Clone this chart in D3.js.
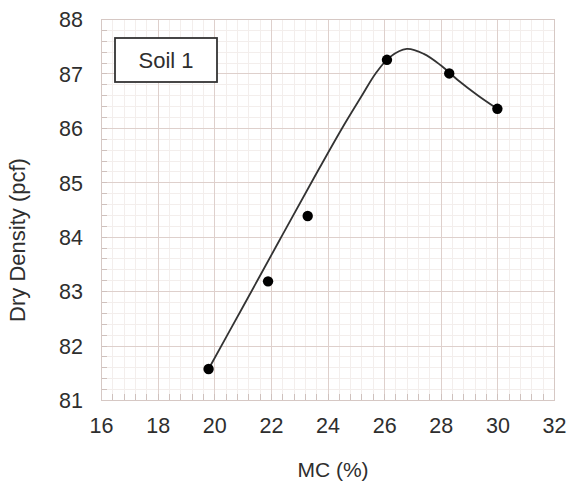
<!DOCTYPE html>
<html><head><meta charset="utf-8">
<script src="https://cdn.jsdelivr.net/npm/d3@7"></script>
<style>body{margin:0;background:#fff}svg{display:block}text{font-family:"Liberation Sans",Arial,sans-serif;fill:#2e2e2e}</style>
</head><body><svg id="c" width="570" height="487"></svg>
<script>
// measured points
const mcValues = [19.8, 21.9, 23.3, 26.1, 28.3, 30.0];
const densityValues = [81.57, 83.18, 84.38, 87.25, 87.0, 86.35];
// fitted curve
const curveMC = [19.8, 21.0, 22.3, 23.5, 24.5, 25.2, 25.7, 26.2, 26.8, 27.4, 28.0, 28.6, 29.3, 30.0];
const curveDensity = [81.57, 82.70, 83.93, 85.06, 85.98, 86.58, 87.0, 87.30, 87.45, 87.36, 87.15, 86.88, 86.60, 86.35];
const xTicks = [16, 18, 20, 22, 24, 26, 28, 30, 32];
const yTicks = [81, 82, 83, 84, 85, 86, 87, 88];
const legendLabel = "Soil 1";
const xTitle = "MC (%)";
const yTitle = "Dry Density (pcf)";

const L = 101, R = 554, T = 19, B = 400;
const x = d3.scaleLinear().domain([16, 32]).range([L, R]);
const y = d3.scaleLinear().domain([81, 88]).range([B, T]);
const svg = d3.select("#c");

const xMinor = d3.range(16, 32.001, 0.4).map(v => +v.toFixed(2));
const yMinor = d3.range(81, 88.001, 0.2).map(v => +v.toFixed(2));
const g = svg.append("g");
g.selectAll("line.xm").data(xMinor).join("line")
  .attr("x1", d => Math.round(x(d)) + 0.5).attr("x2", d => Math.round(x(d)) + 0.5)
  .attr("y1", T).attr("y2", B).attr("stroke", "#f3eeec");
g.selectAll("line.ym").data(yMinor).join("line")
  .attr("y1", d => Math.round(y(d)) + 0.5).attr("y2", d => Math.round(y(d)) + 0.5)
  .attr("x1", L).attr("x2", R).attr("stroke", "#f3eeec");
g.selectAll("line.xM").data(xTicks).join("line")
  .attr("x1", d => Math.round(x(d)) + 0.5).attr("x2", d => Math.round(x(d)) + 0.5)
  .attr("y1", T).attr("y2", B).attr("stroke", "#ded0cc");
g.selectAll("line.yM").data(yTicks).join("line")
  .attr("y1", d => Math.round(y(d)) + 0.5).attr("y2", d => Math.round(y(d)) + 0.5)
  .attr("x1", L).attr("x2", R).attr("stroke", "#ded0cc");

// minor ticks inside
g.selectAll("line.yt").data(yMinor).join("line")
  .attr("y1", d => Math.round(y(d)) + 0.5).attr("y2", d => Math.round(y(d)) + 0.5)
  .attr("x1", L).attr("x2", L + 6).attr("stroke", "#cfc1bd");
g.selectAll("line.xt").data(xMinor).join("line")
  .attr("x1", d => Math.round(x(d)) + 0.5).attr("x2", d => Math.round(x(d)) + 0.5)
  .attr("y1", B).attr("y2", B - 6).attr("stroke", "#cfc1bd");

// border
svg.append("rect").attr("x", L + 0.5).attr("y", T + 0.5).attr("width", R - L).attr("height", B - T)
  .attr("fill", "none").attr("stroke", "#d6c8c4");

// axes labels via d3 axes
const ax = svg.append("g").attr("transform", `translate(0,${B})`)
  .call(d3.axisBottom(x).tickValues(xTicks).tickFormat(d3.format("d")).tickSize(0).tickPadding(0));
ax.select(".domain").remove();
ax.selectAll("text").attr("dy", null).attr("y", 33).style("font-size", "21.5px")
  .style("font-family", '"Liberation Sans",Arial,sans-serif').attr("fill", "#2e2e2e");
const ay = svg.append("g").attr("transform", `translate(${L},0)`)
  .call(d3.axisLeft(y).tickValues(yTicks).tickFormat(d3.format("d")).tickSize(0).tickPadding(18));
ay.select(".domain").remove();
ay.selectAll("text").attr("dy", "0.36em").style("font-size", "21.5px")
  .style("font-family", '"Liberation Sans",Arial,sans-serif').attr("fill", "#2e2e2e");

// curve
const curvePts = curveMC.map((m, i) => [m, curveDensity[i]]);
svg.append("path").datum(curvePts)
  .attr("d", d3.line().x(d => x(d[0])).y(d => y(d[1])).curve(d3.curveCatmullRom.alpha(0.5)))
  .attr("fill", "none").attr("stroke", "#333").attr("stroke-width", 1.8);

// points
svg.selectAll("circle.pt").data(mcValues.map((m, i) => [m, densityValues[i]])).join("circle")
  .attr("cx", d => x(d[0])).attr("cy", d => y(d[1])).attr("r", 5.2).attr("fill", "#000");

// legend
svg.append("rect").attr("x", 115).attr("y", 38).attr("width", 102).attr("height", 44)
  .attr("fill", "#fff").attr("stroke", "#333").attr("stroke-width", 1.8);
svg.append("text").attr("x", 166).attr("y", 68).attr("text-anchor", "middle")
  .style("font-size", "22px").text(legendLabel);

// titles
svg.append("text").attr("x", 333).attr("y", 477).attr("text-anchor", "middle")
  .style("font-size", "21px").text(xTitle);
svg.append("text").attr("transform", "translate(25,240) rotate(-90)").attr("text-anchor", "middle")
  .style("font-size", "22px").text(yTitle);
</script></body></html>
